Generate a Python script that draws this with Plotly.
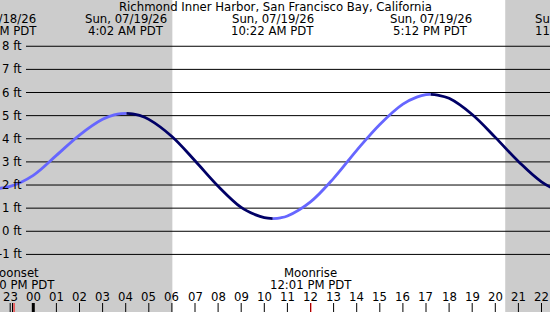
import plotly.graph_objects as go

# ---- data (hours relative to midnight starting Sun 07/19/26) ----
curve_hours = [-1.6, -1, 0, 1, 2, 3, 3.5, 3.8, 4.033, 4.3, 4.6, 5, 6, 7, 8, 9, 9.6, 10, 10.367, 10.7,
               11, 12, 13, 14, 15, 16, 16.6, 17, 17.2, 17.5, 18, 19, 20, 21, 22, 23, 23.5]
curve_feet = [1.85, 1.94, 2.42, 3.28, 4.16, 4.84, 5.03, 5.09, 5.10, 5.08, 5.01, 4.84, 4.10, 3.05,
              1.95, 1.03, 0.72, 0.59, 0.55, 0.58, 0.66, 1.27, 2.29, 3.50, 4.62, 5.50, 5.80, 5.91,
              5.92, 5.89, 5.75, 5.05, 4.06, 3.02, 2.14, 1.64, 1.58]

tide_hours = [-1.6, 4.033, 10.367, 17.2, 23.5]
tide_dates = ["Sat, 07/18/26", "Sun, 07/19/26", "Sun, 07/19/26", "Sun, 07/19/26", "Sun, 07/19/26"]
tide_times = ["10:24 PM PDT", "4:02 AM PDT", "10:22 AM PDT", "5:12 PM PDT", "11:30 PM PDT"]

moon_hours = [-0.833, 12.017]
moon_events = ["Moonset", "Moonrise"]
moon_times = ["11:10 PM PDT", "12:01 PM PDT"]
extra_tick_hours = [-0.9]

sunrise_hour = 6.02
sunset_hour = 20.43

hour_ticks = list(range(-1, 23))
hour_labels = ["23"] + ["%02d" % h for h in range(0, 23)]

feet_levels = list(range(-1, 9))
feet_labels = ["%d ft" % v for v in feet_levels]

title = "Richmond Inner Harbor, San Francisco Bay, California"

# ---- layout constants ----
W, H = 550, 312
XMIN, XMAX = -1.4416, 22.368
YMIN, YMAX = -3.49, 10.0
FONT = "DejaVu Sans"
FS = 11.7
RISE = "#6666ff"
FALL = "#000066"
NIGHT = "#cccccc"


def xp(t):
    return (t - XMIN) / (XMAX - XMIN)


def yp(pix):
    return 1 - pix / H


fig = go.Figure()

# curve split at tide extremes, coloured by rising / falling
for i in range(len(tide_hours) - 1):
    a, b = tide_hours[i], tide_hours[i + 1]
    idx = [k for k, t in enumerate(curve_hours) if a - 1e-6 <= t <= b + 1e-6]
    xs = [curve_hours[k] for k in idx]
    ys = [curve_feet[k] for k in idx]
    color = RISE if ys[-1] > ys[0] else FALL
    fig.add_trace(go.Scatter(x=xs, y=ys, mode="lines", line=dict(color=color, width=2.8, shape="spline"),
                             hoverinfo="skip", showlegend=False))

shapes = []
# night shading
shapes.append(dict(type="rect", xref="x", yref="paper", x0=XMIN - 2, x1=sunrise_hour, y0=0, y1=1,
                   fillcolor=NIGHT, line=dict(width=0), layer="below"))
shapes.append(dict(type="rect", xref="x", yref="paper", x0=sunset_hour, x1=XMAX + 2, y0=0, y1=1,
                   fillcolor=NIGHT, line=dict(width=0), layer="below"))
# horizontal lines
for v in feet_levels:
    shapes.append(dict(type="line", xref="paper", yref="y", x0=26 / W, x1=1, y0=v, y1=v,
                       line=dict(color="black", width=1), layer="below"))
# hour ticks
for h in hour_ticks:
    shapes.append(dict(type="line", xref="x", yref="paper", x0=h, x1=h, y0=0, y1=9 / H,
                       line=dict(color="black", width=3 if h == 0 else 1)))
for h in extra_tick_hours:
    shapes.append(dict(type="line", xref="x", yref="paper", x0=h, x1=h, y0=0, y1=9 / H,
                       line=dict(color="black", width=1)))
for h in moon_hours:
    shapes.append(dict(type="line", xref="x", yref="paper", x0=h, x1=h, y0=0, y1=9 / H,
                       line=dict(color="#ff0000", width=1)))

ann = []


def text(x, y, s, anchor="center"):
    ann.append(dict(x=x, y=y, xref="paper", yref="paper", text=s, showarrow=False,
                    xanchor=anchor, yanchor="middle", font=dict(family=FONT, size=FS, color="black")))


text(0.5, yp(7), title)
for t, d, tm in zip(tide_hours, tide_dates, tide_times):
    text(xp(t), yp(19), d)
    text(xp(t), yp(31), tm)
for t, e, tm in zip(moon_hours, moon_events, moon_times):
    text(xp(t), yp(273), e)
    text(xp(t), yp(285), tm)
for h, lab in zip(hour_ticks, hour_labels):
    text(xp(h), yp(297), lab)
for v, lab in zip(feet_levels, feet_labels):
    ann.append(dict(x=24 / W, y=v, xref="paper", yref="y", text=lab, showarrow=False,
                    xanchor="right", yanchor="middle", font=dict(family=FONT, size=FS, color="black")))

fig.update_layout(
    width=W, height=H, margin=dict(l=0, r=0, t=0, b=0),
    paper_bgcolor="white", plot_bgcolor="white",
    xaxis=dict(range=[XMIN, XMAX], visible=False, fixedrange=True),
    yaxis=dict(range=[YMIN, YMAX], visible=False, fixedrange=True),
    shapes=shapes, annotations=ann, showlegend=False,
)

fig.write_html("out.html", config={"displayModeBar": False})
